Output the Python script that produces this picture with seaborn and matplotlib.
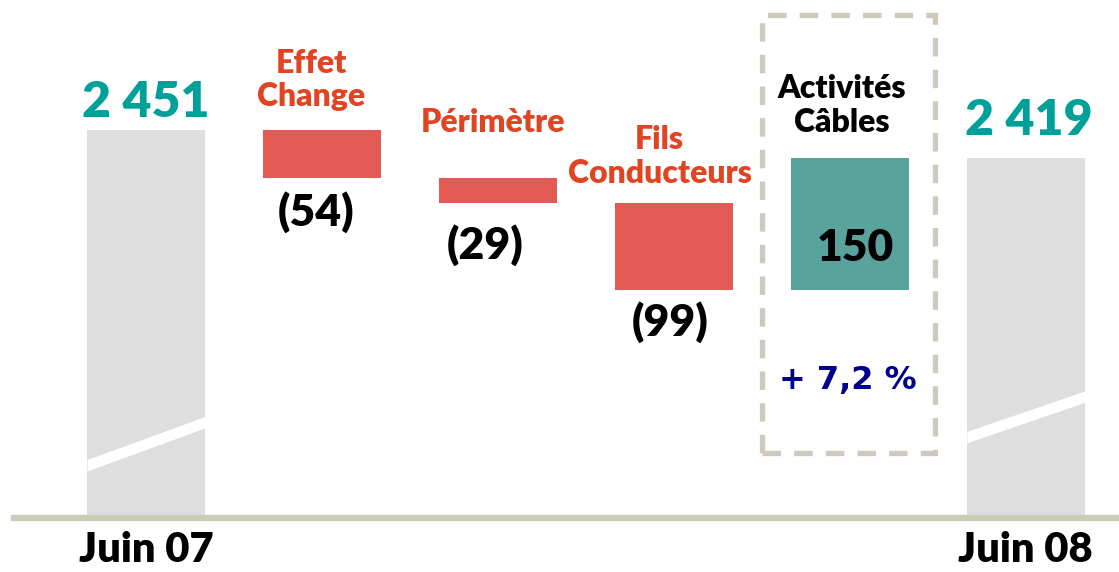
import numpy as np
import pandas as pd
import matplotlib
matplotlib.use("Agg")
import matplotlib.pyplot as plt
import seaborn as sns
from matplotlib.patches import Rectangle

# Bridge Juin 07 -> Juin 08
steps = ["Juin 07", "Effet Change", "Périmètre", "Fils Conducteurs", "Activités Câbles", "Juin 08"]
deltas = [2451, -54, -29, -99, 150, 2419]
value_labels = ["2 451", "(54)", "(29)", "(99)", "150", "2 419"]
step_titles = ["", "Effet\nChange", "Périmètre", "Fils\nConducteurs", "Activités\nCâbles", ""]
growth_label = "+ 7,2 %"

# waterfall bases / heights
bases, heights = [], []
running = 0
for i, d in enumerate(deltas):
    if i == 0 or i == len(deltas) - 1:
        bases.append(0)
        heights.append(d)
        running = d
    else:
        new = running + d
        bases.append(min(running, new))
        heights.append(abs(d))
        running = new
df = pd.DataFrame({"step": steps, "base": bases, "height": heights})

sns.set_style("white")
plt.rcParams["font.family"] = ["Lato", "DejaVu Sans"]

fig = plt.figure(figsize=(11.19, 5.72), dpi=100)
ax = fig.add_axes([0, 0.0944, 1, 0.9056])

sns.barplot(data=df, x="step", y="height", bottom=df["base"].to_numpy(),
            order=steps, width=0.67, color="#dcdcdc", ax=ax)

bar_colors = ["#dedede", "#e65a55", "#e65a55", "#e65a55", "#5aa39c", "#dedede"]
for patch, c in zip(ax.patches, bar_colors):
    patch.set_facecolor(c)
    patch.set_edgecolor("none")

ax.set_ylim(2010, 2599)
ax.set_xlim(-0.83, 5.53)

# axis break marks on the total bars
breaks = [(0, 2070, 2119), (5, 2102, 2148)]
for xc, y_left, y_right in breaks:
    xs = np.array([xc - 0.335, xc + 0.335])
    mid = np.array([y_left, y_right])
    ax.fill_between(xs, mid - 6.5, mid + 6.5, color="white", lw=0, zorder=3)

# dashed frame around Activités Câbles
frame = Rectangle((3.5, 2084), 0.983, 498, fill=False, edgecolor="#cdc9bb",
                  linewidth=3.8, linestyle=(0, (3.5, 2.5)), clip_on=False, zorder=4)
ax.add_patch(frame)

for s in ["top", "left", "right"]:
    ax.spines[s].set_visible(False)
ax.spines["bottom"].set_color("#cdc9bb")
ax.spines["bottom"].set_linewidth(4.5)
ax.spines["bottom"].set_bounds(-0.75, 5.53)

ax.set_xticks([0, 5])
ax.set_xticklabels([steps[0], steps[-1]], fontsize=30, fontweight="heavy", color="black")
ax.tick_params(axis="x", length=0, pad=9)
ax.set_yticks([])
ax.set_xlabel("")
ax.set_ylabel("")

teal = "#00a09a"
red = "#e04423"
navy = "#00008c"

ax.text(0, 2482, value_labels[0], ha="center", va="center", fontsize=36, fontweight="heavy", color=teal)
ax.text(5.02, 2462, value_labels[5], ha="center", va="center", fontsize=36, fontweight="heavy", color=teal)

title_pos = {1: (0.94, 2508), 2: (1.97, 2460), 3: (2.92, 2421), 4: (3.955, 2479)}
for i, (tx, ty) in title_pos.items():
    ax.text(tx, ty, step_titles[i], ha="center", va="center", fontsize=23, fontweight="heavy",
            color="black" if i == 4 else red, linespacing=1.2)

val_pos = {1: (0.966, 2358), 2: (1.93, 2320), 3: (2.98, 2233), 4: (4.03, 2317)}
for i, (tx, ty) in val_pos.items():
    ax.text(tx, ty, value_labels[i], ha="center", va="center", fontsize=32, fontweight="heavy", color="black")

ax.text(3.99, 2166, growth_label, ha="center", va="center", fontsize=23, fontweight="bold",
        color=navy, family=["DejaVu Sans"])

fig.savefig("out.png", dpi=100)
